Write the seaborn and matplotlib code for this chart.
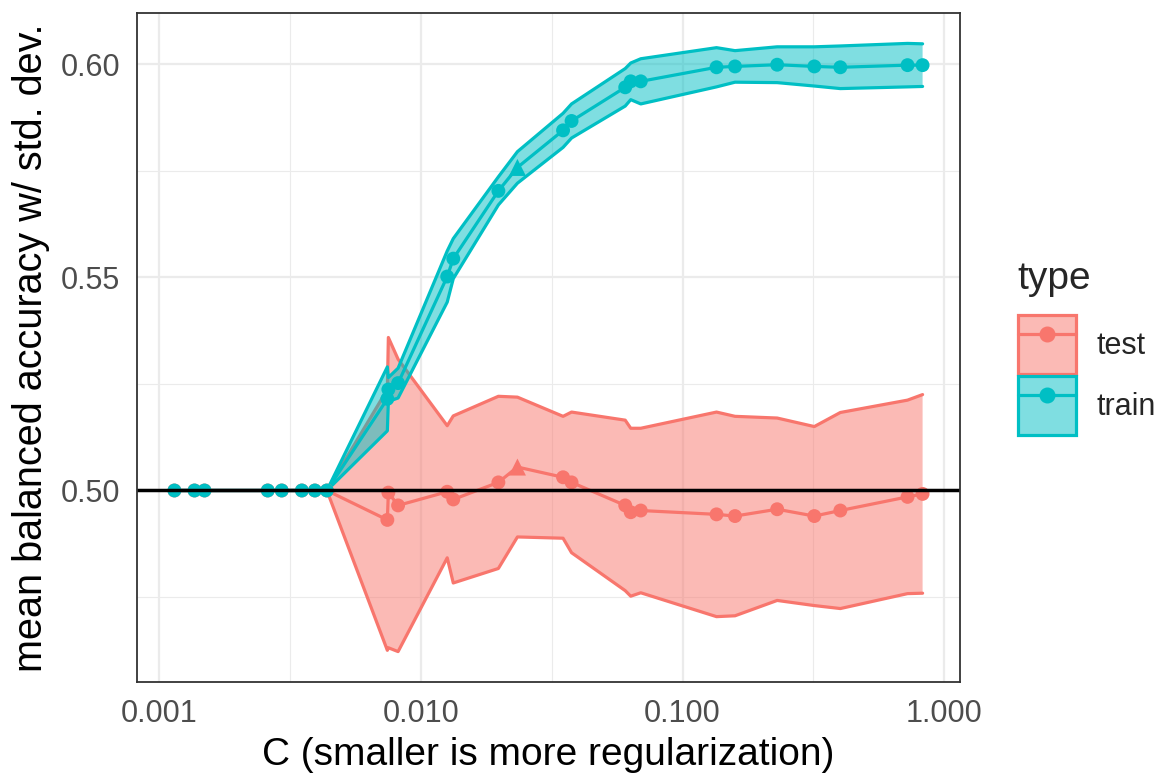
import numpy as np
import pandas as pd
import matplotlib
matplotlib.use("Agg")
import matplotlib.pyplot as plt
import seaborn as sns
from matplotlib.ticker import FixedLocator, FixedFormatter, NullFormatter
from matplotlib.patches import Patch
from matplotlib.lines import Line2D
from matplotlib.colors import to_rgba

# Regularization strengths sampled in the search
C_values = [0.001144, 0.001365, 0.001491, 0.002600, 0.002941, 0.003510, 0.003936,
            0.004375, 0.007447, 0.007514, 0.008185, 0.012611, 0.013300, 0.019779,
            0.023388, 0.034938, 0.037651, 0.060367, 0.063365, 0.069215, 0.13477,
            0.15858, 0.22976, 0.31858, 0.40053, 0.72344, 0.82589]

# Cross-validated balanced accuracy (mean and std. dev.)
test_mean = [0.5000, 0.5000, 0.5000, 0.5000, 0.5000, 0.5000, 0.5000, 0.5000,
             0.4931, 0.4995, 0.4965, 0.4997, 0.4979, 0.5019, 0.5055, 0.5031,
             0.5019, 0.4965, 0.4949, 0.4953, 0.4944, 0.4940, 0.4956, 0.4940,
             0.4953, 0.4985, 0.4992]
test_sd = [0.0, 0.0, 0.0, 0.0, 0.0, 0.0, 0.0, 0.0,
           0.0306, 0.0364, 0.0343, 0.0155, 0.0196, 0.0202, 0.0164, 0.0143,
           0.0165, 0.0200, 0.0197, 0.0193, 0.0240, 0.0234, 0.0214, 0.0210,
           0.0230, 0.0227, 0.0233]
train_mean = [0.5000, 0.5000, 0.5000, 0.5000, 0.5000, 0.5000, 0.5000, 0.5000,
              0.5215, 0.5237, 0.5252, 0.5502, 0.5544, 0.5703, 0.5758, 0.5845,
              0.5867, 0.5946, 0.5960, 0.5960, 0.5993, 0.5995, 0.5999, 0.5995,
              0.5993, 0.5998, 0.5998]
train_sd = [0.0, 0.0, 0.0, 0.0, 0.0, 0.0, 0.0, 0.0,
            0.0075, 0.0028, 0.0035, 0.0060, 0.0047, 0.0033, 0.0037, 0.0040,
            0.0040, 0.0044, 0.0043, 0.0053, 0.0046, 0.0037, 0.0042, 0.0046,
            0.0050, 0.0051, 0.0050]

types = ["test", "train"]
palette = {"test": "#F8766D", "train": "#00BFC4"}
x_ticks = [0.001, 0.01, 0.1, 1.0]
x_tick_labels = ["0.001", "0.010", "0.100", "1.000"]
y_ticks = [0.50, 0.55, 0.60]
y_tick_labels = ["0.50", "0.55", "0.60"]

best_idx = int(np.argmax(test_mean))
frames = []
for t, m, s in [("test", test_mean, test_sd), ("train", train_mean, train_sd)]:
    d = pd.DataFrame({"C": C_values, "mean": m, "sd": s})
    d["type"] = t
    d["lo"] = d["mean"] - d["sd"]
    d["hi"] = d["mean"] + d["sd"]
    d["best"] = d.index == best_idx
    frames.append(d)
df = pd.concat(frames, ignore_index=True)

sns.set_style("white")
plt.rcParams["font.family"] = ["Liberation Sans", "DejaVu Sans"]

W, H = 1166, 778
fig = plt.figure(figsize=(W / 100, H / 100), dpi=100)
ax = fig.add_axes([137 / W, 1 - 682 / H, (960 - 137) / W, (682 - 13) / H])

LW = 2.3
# ribbons: mean +/- std. dev. with outlined edges
for t in types:
    d = df[df["type"] == t].sort_values("C")
    col = palette[t]
    ax.fill_between(d["C"], d["lo"], d["hi"], facecolor=to_rgba(col, 0.5),
                    edgecolor="none", zorder=2)
    ax.plot(d["C"], d["lo"], color=col, lw=LW, zorder=2)
    ax.plot(d["C"], d["hi"], color=col, lw=LW, zorder=2)

sns.lineplot(data=df, x="C", y="mean", hue="type", palette=palette,
             estimator=None, sort=True, lw=LW, legend=False, ax=ax, zorder=3)
sns.scatterplot(data=df, x="C", y="mean", hue="type", palette=palette,
                style="best", markers={False: "o", True: "^"},
                size="best", sizes={False: 100, True: 150},
                linewidth=0, legend=False, ax=ax, zorder=4)
ax.axhline(0.5, color="black", lw=2.5, zorder=5)

ax.set_xscale("log")
lx = np.log10(df["C"])
span = lx.max() - lx.min()
ax.set_xlim(10 ** (lx.min() - 0.05 * span), 10 ** (lx.max() + 0.05 * span))
ylo, yhi = df["lo"].min(), df["hi"].max()
ax.set_ylim(ylo - 0.05 * (yhi - ylo), yhi + 0.05 * (yhi - ylo))

ax.xaxis.set_major_locator(FixedLocator(x_ticks))
ax.xaxis.set_major_formatter(FixedFormatter(x_tick_labels))
ax.xaxis.set_minor_locator(FixedLocator([10 ** -2.5, 10 ** -1.5, 10 ** -0.5]))
ax.xaxis.set_minor_formatter(NullFormatter())
ax.yaxis.set_major_locator(FixedLocator(y_ticks))
ax.yaxis.set_major_formatter(FixedFormatter(y_tick_labels))
ax.yaxis.set_minor_locator(FixedLocator([0.475, 0.525, 0.575]))

ax.grid(which="major", color="#EBEBEB", lw=1.6)
ax.grid(which="minor", color="#EBEBEB", lw=0.8)
ax.set_axisbelow(True)
for sp in ax.spines.values():
    sp.set_color("#333333")
    sp.set_linewidth(1.3)
    sp.set_zorder(6)
ax.tick_params(which="major", length=6, width=1.3, color="#333333",
               labelcolor="#4D4D4D", labelsize=22, pad=6)
ax.tick_params(which="minor", length=0)

ax.set_xlabel("C (smaller is more regularization)", fontsize=28, color="black", labelpad=6)
ax.set_ylabel("mean balanced accuracy w/ std. dev.", fontsize=28.5, color="black", labelpad=8)

# legend: title plus one outlined key per type
fig.text(1017 / W, 1 - 279 / H, "type", fontsize=28, ha="left", va="center")
handles = [(Patch(facecolor=to_rgba(palette[t], 0.5), edgecolor=palette[t], linewidth=2.3),
            Line2D([], [], color=palette[t], lw=2.3, marker="o", markersize=10.5))
           for t in types]
leg = fig.legend(handles, types, loc="upper left",
                 bbox_to_anchor=(1018 / W, 1 - 315 / H), frameon=False,
                 fontsize=22, handlelength=1.9, handleheight=2.6,
                 handletextpad=0.68, labelspacing=0.06, borderpad=0, borderaxespad=0)

fig.savefig("out.png", dpi=100)
